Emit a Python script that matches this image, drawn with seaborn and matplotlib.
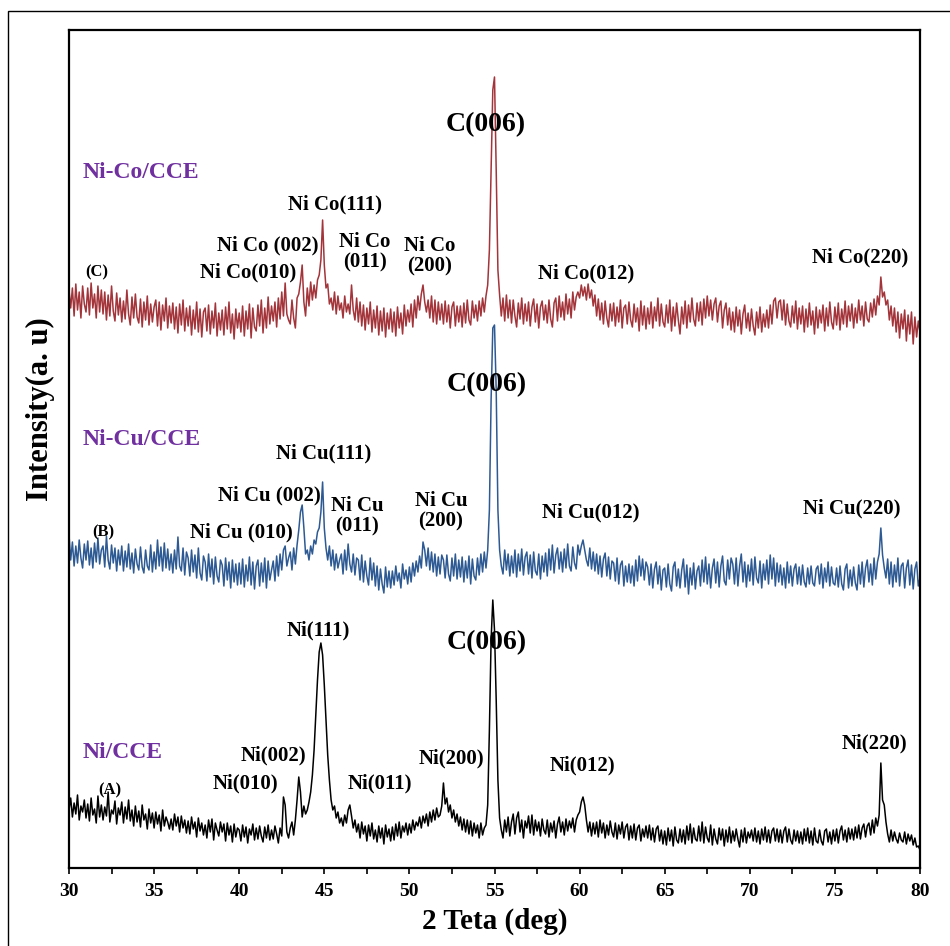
import numpy as np
import pandas as pd
import matplotlib
matplotlib.use("Agg")
import matplotlib.pyplot as plt
from matplotlib.patches import Rectangle
from matplotlib.ticker import MultipleLocator
import seaborn as sns

# ============================================
# XRD patterns (2 theta scan, 0.1 deg step)
# ============================================

theta = np.round(np.arange(300, 801) / 10, 1)

# (A) Ni/CCE, intensity above its own baseline (a.u.)
ni_cce = [
    40, 52, 33, 47, 36, 55, 30, 44, 38, 50,
    32, 46, 29, 52, 35, 41, 27, 54, 33, 45,
    30, 43, 34, 58, 28, 40, 36, 49, 26, 42,
    35, 48, 27, 43, 31, 50, 29, 40, 24, 44,
    28, 39, 23, 45, 30, 36, 21, 41, 27, 37,
    22, 38, 26, 35, 19, 40, 24, 33, 28, 21,
    31, 20, 36, 24, 33, 18, 34, 22, 30, 17,
    29, 16, 33, 21, 28, 13, 32, 19, 27, 15,
    25, 12, 30, 18, 31, 10, 27, 20, 14, 28,
    18, 26, 9, 27, 15, 24, 8, 26, 13, 22,
    20, 9, 25, 13, 23, 7, 21, 15, 26, 10,
    22, 11, 24, 14, 8, 23, 12, 25, 10, 20,
    11, 24, 16, 7, 22, 14, 53, 45, 18, 12,
    22, 28, 15, 30, 50, 73, 58, 33, 44, 36,
    40, 48, 58, 75, 100, 135, 170, 198, 207, 195,
    165, 130, 95, 70, 50, 40, 44, 32, 38, 27,
    32, 24, 35, 27, 40, 45, 34, 22, 30, 18,
    26, 12, 28, 16, 24, 9, 25, 14, 27, 11,
    20, 8, 24, 12, 22, 6, 25, 13, 21, 9,
    23, 10, 26, 14, 28, 12, 24, 18, 27, 15,
    26, 17, 30, 20, 28, 24, 33, 22, 34, 27,
    36, 24, 38, 28, 40, 30, 42, 33, 35, 44,
    67, 46, 52, 38, 45, 32, 40, 28, 36, 24,
    33, 20, 31, 18, 30, 16, 29, 14, 27, 17,
    25, 12, 27, 15, 22, 25, 45, 120, 210, 250,
    220, 150, 70, 32, 20, 12, 30, 18, 33, 14,
    28, 36, 16, 32, 38, 18, 30, 12, 29, 22,
    34, 17, 35, 15, 30, 19, 28, 14, 31, 20,
    16, 30, 13, 27, 18, 29, 12, 26, 33, 18,
    28, 15, 31, 19, 29, 22, 32, 18, 30, 35,
    38, 48, 53, 45, 30, 18, 28, 14, 27, 16,
    28, 13, 30, 17, 27, 12, 25, 15, 29, 18,
    13, 27, 11, 25, 16, 28, 12, 23, 26, 10,
    24, 12, 26, 10, 22, 25, 9, 21, 13, 24,
    12, 25, 10, 22, 8, 21, 24, 9, 20, 6,
    19, 5, 22, 9, 20, 4, 23, 10, 7, 21,
    8, 20, 6, 24, 10, 26, 7, 22, 11, 9,
    24, 9, 28, 7, 23, 12, 8, 25, 5, 21,
    11, 6, 22, 10, 21, 4, 20, 8, 23, 7,
    19, 9, 21, 11, 3, 20, 8, 22, 7, 18,
    12, 20, 9, 22, 8, 19, 6, 21, 10, 23,
    8, 20, 7, 19, 22, 9, 21, 8, 20, 7,
    19, 23, 8, 21, 10, 6, 20, 9, 19, 7,
    18, 6, 21, 9, 22, 7, 19, 5, 22, 9,
    7, 20, 9, 5, 19, 21, 8, 18, 6, 20,
    9, 21, 7, 19, 24, 10, 20, 8, 22, 11,
    21, 10, 23, 12, 25, 11, 22, 26, 13, 24,
    27, 15, 30, 17, 32, 24, 35, 87, 50, 45,
    28, 16, 8, 20, 9, 18, 11, 7, 17, 10,
    8, 18, 6, 16, 9, 15, 5, 12, 3, 4,
    0,
]

# (B) Ni-Cu/CCE
ni_cu_cce = [
    55, 30, 48, 24, 44, 27, 50, 32, 22, 46,
    30, 49, 25, 42, 22, 47, 28, 52, 26, 40,
    44, 23, 54, 30, 21, 45, 27, 42, 19, 40,
    25, 44, 19, 39, 23, 46, 21, 37, 17, 41,
    26, 20, 43, 23, 17, 40, 24, 20, 45, 18,
    38, 21, 50, 24, 43, 19, 47, 22, 41, 20,
    36, 17, 40, 21, 53, 24, 19, 42, 15, 38,
    32, 14, 40, 18, 35, 12, 42, 17, 10, 34,
    28, 9, 36, 13, 31, 6, 33, 14, 8, 30,
    25, 4, 32, 10, 28, 2, 30, 8, 26, 5,
    27, 6, 31, 3, 25, 9, 33, 5, 28, 1,
    24, 30, 4, 27, 8, 32, 2, 29, 10, 20,
    29, 9, 34, 14, 36, 20, 40, 44, 24, 32,
    38, 20, 42, 26, 45, 60, 78, 85, 62, 36,
    40, 30, 44, 36, 50, 46, 58, 62, 78, 108,
    62, 42, 30, 44, 24, 40, 20, 36, 22, 30,
    36, 16, 40, 20, 46, 26, 18, 36, 15, 32,
    30, 10, 35, 8, 29, 14, 5, 32, 10, 27,
    4, 24, 0, 21, 6, -3, 23, 3, 19, 2,
    19, 5, 24, 9, 17, 2, 26, 11, 20, 6,
    23, 8, 27, 14, 29, 18, 34, 22, 48, 40,
    24, 42, 20, 38, 18, 36, 14, 33, 16, 35,
    30, 12, 35, 16, 9, 32, 14, 36, 11, 30,
    13, 33, 8, 29, 12, 34, 6, 31, 14, 10,
    32, 15, 36, 18, 38, 22, 40, 80, 190, 262,
    265, 200, 80, 40, 24, 16, 40, 20, 36, 14,
    34, 17, 40, 13, 36, 19, 41, 15, 33, 38,
    16, 35, 12, 38, 19, 15, 36, 11, 34, 18,
    37, 14, 41, 20, 45, 17, 35, 42, 21, 38,
    18, 41, 22, 46, 24, 19, 43, 27, 21, 45,
    35, 44, 50, 40, 30, 24, 42, 21, 38, 19,
    36, 16, 34, 13, 31, 37, 14, 33, 11, 29,
    27, 9, 32, 6, 25, 29, 4, 24, 8, 26,
    7, 24, 4, 30, 9, 34, 14, 31, 10, 28,
    23, 5, 26, 2, 21, 28, 6, 24, 0, 20,
    22, 3, 26, 6, -1, 23, 28, 4, 21, 2,
    20, 31, 3, 25, -4, 22, 5, 27, 1, 19,
    24, 4, 30, 8, 33, 6, 26, 2, 22, 31,
    7, 28, 3, 24, 34, 9, 5, 30, 11, 32,
    26, 6, 32, 4, 24, 36, 8, 28, 3, 25,
    9, 31, 5, 33, 12, 7, 29, 2, 26, 10,
    30, 6, 35, 11, 32, 4, 27, 8, 25, 5,
    22, 2, 28, 7, 24, 4, 21, 26, 6, 23,
    5, 25, 8, 3, 22, 6, 24, 7, 4, 21,
    24, 6, 26, 2, 22, 8, 28, 4, 23, 7,
    5, 22, 3, 24, 6, 0, 21, 26, 2, 20,
    4, 23, 7, 0, 25, 6, 28, 3, 22, 30,
    8, 26, 5, 32, 11, 28, 36, 62, 35, 22,
    12, 31, 6, 28, 3, 25, 8, 32, 4, 24,
    27, 2, 22, 30, 5, 25, 1, 21, 28, 4,
    12,
]

# (C) Ni-Co/CCE
ni_co_cce = [
    50, 32, 52, 24, 56, 30, 48, 22, 54, 36,
    28, 52, 25, 57, 32, 46, 22, 54, 28, 50,
    26, 48, 20, 45, 24, 54, 29, 19, 47, 25,
    42, 18, 39, 21, 50, 26, 15, 43, 22, 46,
    23, 17, 41, 13, 38, 20, 44, 15, 36, 18,
    33, 40, 14, 38, 10, 35, 19, 42, 12, 34,
    17, 37, 11, 33, 7, 36, 15, 40, 9, 32,
    14, 34, 5, 30, 11, 38, 8, 31, 3, 28,
    32, 9, 35, 6, 29, 12, 37, 4, 27, 10,
    30, 5, 33, 11, 38, 7, 26, 1, 31, 12,
    27, 8, 34, 4, 29, 11, 36, 2, 32, 13,
    9, 35, 14, 40, 7, 32, 12, 43, 16, 34,
    19, 38, 13, 42, 21, 48, 24, 57, 26, 20,
    16, 40, 22, 12, 42, 46, 58, 75, 38, 24,
    52, 34, 58, 40, 55, 42, 60, 65, 80, 120,
    75, 52, 56, 36, 42, 30, 48, 26, 44, 30,
    37, 22, 44, 28, 36, 26, 55, 30, 20, 42,
    18, 38, 14, 35, 10, 32, 16, 38, 8, 30,
    12, 34, 5, 29, 9, 32, 3, 27, 11, 31,
    8, 28, 4, 33, 12, 27, 6, 35, 14, 30,
    18, 36, 13, 40, 22, 44, 30, 46, 55, 38,
    28, 40, 22, 44, 18, 40, 16, 38, 20, 36,
    16, 39, 18, 35, 12, 33, 38, 14, 34, 18,
    34, 13, 37, 17, 40, 20, 15, 39, 22, 35,
    19, 39, 24, 42, 28, 44, 55, 90, 170, 250,
    263, 170, 70, 45, 24, 42, 19, 45, 22, 40,
    17, 40, 24, 13, 37, 21, 42, 16, 36, 19,
    38, 14, 33, 41, 18, 36, 12, 33, 39, 20,
    35, 17, 40, 21, 13, 37, 42, 19, 44, 23,
    38, 20, 46, 26, 41, 22, 48, 30, 43, 48,
    42, 55, 44, 53, 40, 56, 42, 50, 34, 45,
    24, 41, 20, 37, 16, 39, 22, 13, 36, 19,
    37, 14, 33, 18, 40, 12, 32, 35, 16, 38,
    20, 13, 36, 18, 32, 9, 39, 15, 34, 11,
    32, 16, 38, 12, 33, 19, 42, 14, 36, 18,
    13, 35, 17, 40, 9, 33, 14, 37, 20, 6,
    33, 16, 39, 12, 35, 18, 42, 21, 14, 37,
    19, 38, 15, 41, 22, 44, 24, 40, 20, 36,
    42, 18, 34, 39, 12, 30, 37, 15, 32, 10,
    28, 8, 33, 14, 30, 6, 26, 35, 12, 27,
    9, 31, 14, 5, 28, 12, 33, 8, 26, 13,
    30, 12, 35, 16, 39, 42, 22, 38, 40, 20,
    40, 15, 36, 19, 13, 34, 17, 39, 11, 32,
    16, 34, 8, 31, 13, 37, 15, 29, 6, 33,
    12, 30, 17, 35, 9, 32, 14, 38, 18, 11,
    33, 15, 37, 10, 31, 16, 39, 13, 34, 19,
    36, 12, 32, 17, 40, 20, 34, 14, 38, 21,
    18, 37, 23, 41, 25, 44, 35, 63, 43, 48,
    35, 40, 20, 34, 14, 32, 8, 28, 2, 26,
    11, 30, -1, 25, 6, 28, -4, 23, 3, 19,
    8,
]

samples = ["Ni/CCE", "Ni-Cu/CCE", "Ni-Co/CCE"]
patterns = [ni_cce, ni_cu_cce, ni_co_cce]
offsets = [18, 278, 528]            # vertical stacking of the patterns
line_colors = ["black", "#2E5A94", "#A3343A"]
tags = ["(A)", "(B)", "(C)"]

# peak labels: text, 2theta, height on the stacked intensity scale
peak_text = [
    "Ni(010)", "Ni(002)", "Ni(111)", "Ni(011)", "Ni(200)", "C(006)", "Ni(012)", "Ni(220)",
    "Ni Cu (010)", "Ni Cu (002)", "Ni Cu(111)", "Ni Cu\n(011)", "Ni Cu\n(200)", "C(006)",
    "Ni Cu(012)", "Ni Cu(220)",
    "Ni Co(010)", "Ni Co (002)", "Ni Co(111)", "Ni Co\n(011)", "Ni Co\n(200)", "C(006)",
    "Ni Co(012)", "Ni Co(220)",
]
peak_x = [
    40.34, 41.99, 44.66, 48.27, 52.47, 54.56, 60.14, 77.33,
    40.11, 41.75, 44.98, 46.92, 51.86, 54.56, 60.67, 75.97,
    40.55, 41.66, 45.60, 47.39, 51.21, 54.50, 60.41, 76.47,
]
peak_y = [
    85, 113, 238, 85, 110, 225, 103, 125,
    336, 373, 415, 352, 357, 483, 356, 360,
    596, 623, 664, 616, 612, 743, 595, 611,
]

df = pd.concat(
    [pd.DataFrame({"theta": theta, "intensity": np.array(p) + off, "sample": s})
     for s, p, off in zip(samples, patterns, offsets)],
    ignore_index=True,
)

# ============================================
# PLOT
# ============================================

sns.set_style("white")
plt.rcParams["font.family"] = ["Liberation Serif", "DejaVu Serif"]
plt.rcParams["font.weight"] = "bold"
plt.rcParams["text.color"] = "black"
plt.rcParams["axes.labelcolor"] = "black"
plt.rcParams["xtick.color"] = "black"

fig = plt.figure(figsize=(9.5, 9.46), dpi=100)
ax = fig.add_axes([69 / 950, 1 - 868 / 946, 851 / 950, 838 / 946])

for s, c in zip(samples, line_colors):
    sns.lineplot(data=df[df["sample"] == s], x="theta", y="intensity",
                 color=c, linewidth=1.1, estimator=None, ax=ax)

ax.set_xlim(30, 80)
ax.set_ylim(0, 838)
ax.set_yticks([])
ax.xaxis.set_major_locator(MultipleLocator(5))
ax.xaxis.set_minor_locator(MultipleLocator(2.5))
ax.tick_params(axis="x", which="both", direction="out", length=4, width=1.2,
               bottom=True, top=False, pad=7, labelsize=14)
for lab in ax.get_xticklabels():
    lab.set_fontweight("bold")
for sp in ax.spines.values():
    sp.set_linewidth(1.6)
    sp.set_color("black")

ax.set_xlabel("2 Teta (deg)", fontsize=21, fontweight="bold", labelpad=5)
ax.set_ylabel("Intensity(a. u)", fontsize=22, fontweight="bold")
ax.yaxis.set_label_coords(-0.016, 0.547)

# sample names and tags
name_y = [115, 428, 695]
tag_pos = [(32.40, 78), (31.99, 336), (31.65, 596)]
for s, ny, t, tp in zip(samples, name_y, tags, tag_pos):
    ax.text(30.8, ny, s, color="#7030A0", fontsize=17, fontweight="bold",
            ha="left", va="center")
    ax.text(tp[0], tp[1], t, fontsize=12, fontweight="bold", ha="center", va="center")

for t, x, y in zip(peak_text, peak_x, peak_y):
    big = t == "C(006)"
    ax.text(x, y, t, fontsize=20 if big else 15, fontweight="bold",
            ha="center", va="center", linespacing=1.05)

# outer frame of the figure
fig.add_artist(Rectangle((8 / 950, -0.05), 1.2, 1 - 11 / 946 + 0.05,
                         transform=fig.transFigure, fill=False,
                         edgecolor="black", linewidth=1.0))

fig.savefig("out.png", dpi=100)
